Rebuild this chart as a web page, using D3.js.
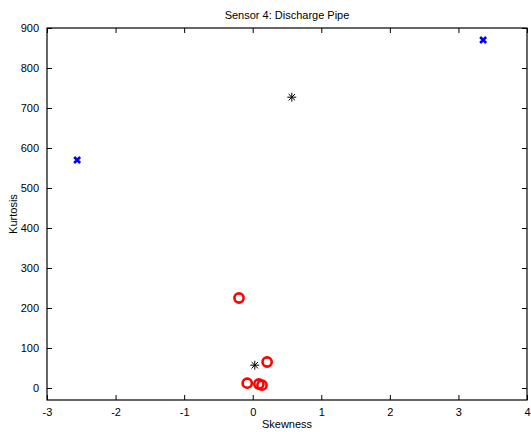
<!DOCTYPE html>
<html><head><meta charset="utf-8">
<script src="https://cdn.jsdelivr.net/npm/d3@7"></script>
<style>body{margin:0;background:#fff}svg{display:block}text{font-family:"Liberation Sans",Arial,sans-serif}</style>
</head><body>
<script>
const xTicks = [-3,-2,-1,0,1,2,3,4];
const yTicks = [0,100,200,300,400,500,600,700,800,900];
const blueX = [-2.56, 3.36];
const blueY = [570, 870];
const blackX = [0.57, 0.03];
const blackY = [727, 57];
const redX = [-0.2, 0.21, -0.08, 0.09, 0.135];
const redY = [225, 65, 12, 10, 7];

const W=531,H=432, L=47,R=527,T=28,B=400;
const svg=d3.select("body").append("svg").attr("width",W).attr("height",H);
const x=d3.scaleLinear().domain([-3,4]).range([L,R]);
const y=d3.scaleLinear().domain([-30,900]).range([B,T]);

svg.append("rect").attr("x",L).attr("y",T).attr("width",R-L).attr("height",B-T).attr("fill","#fff");

const fs="11px";
const fmt=d=>String(d);
const ax=(g)=>g.selectAll("text").attr("font-size",fs).attr("fill","#000");
const gb=svg.append("g").attr("transform",`translate(0,${B})`).call(d3.axisBottom(x).tickValues(xTicks).tickSize(-5).tickPadding(8).tickFormat(fmt));
const gt=svg.append("g").attr("transform",`translate(0,${T})`).call(d3.axisTop(x).tickValues(xTicks).tickSize(-5).tickFormat(""));
const gl=svg.append("g").attr("transform",`translate(${L},0)`).call(d3.axisLeft(y).tickValues(yTicks).tickSize(-5).tickPadding(8).tickFormat(fmt));
const gr=svg.append("g").attr("transform",`translate(${R},0)`).call(d3.axisRight(y).tickValues(yTicks).tickSize(-5).tickFormat(""));
[gb,gt,gl,gr].forEach(g=>{g.select(".domain").remove();g.selectAll("line").attr("stroke","#000");ax(g);});
svg.append("rect").attr("x",L).attr("y",T).attr("width",R-L).attr("height",B-T).attr("fill","none").attr("stroke","#000").attr("stroke-width",1.2);

// red circles
svg.append("g").selectAll("circle").data(redX).join("circle")
 .attr("cx",d=>x(d)).attr("cy",(d,i)=>y(redY[i])).attr("r",4.6)
 .attr("fill","none").attr("stroke","#ff0000").attr("stroke-width",2.6);
// blue x
svg.append("g").selectAll("path").data(blueX).join("path")
 .attr("d",(d,i)=>{const cx=x(d),cy=y(blueY[i]),s=3;return `M${cx-s},${cy-s}L${cx+s},${cy+s}M${cx-s},${cy+s}L${cx+s},${cy-s}`;})
 .attr("stroke","#0000ff").attr("stroke-width",2.6).attr("fill","none");
// black asterisks
svg.append("g").selectAll("path").data(blackX).join("path")
 .attr("d",(d,i)=>{const cx=x(d),cy=y(blackY[i]),s=4.5,t=3.2;return `M${cx-s},${cy}L${cx+s},${cy}M${cx},${cy-s}L${cx},${cy+s}M${cx-t},${cy-t}L${cx+t},${cy+t}M${cx-t},${cy+t}L${cx+t},${cy-t}`;})
 .attr("stroke","#000").attr("stroke-width",1).attr("fill","none");

svg.append("text").attr("x",(L+R)/2).attr("y",19).attr("text-anchor","middle").attr("font-size",fs).text("Sensor 4: Discharge Pipe");
svg.append("text").attr("x",(L+R)/2).attr("y",428).attr("text-anchor","middle").attr("font-size",fs).text("Skewness");
svg.append("text").attr("transform",`translate(17,${(T+B)/2}) rotate(-90)`).attr("text-anchor","middle").attr("font-size",fs).text("Kurtosis");
</script>
</body></html>
